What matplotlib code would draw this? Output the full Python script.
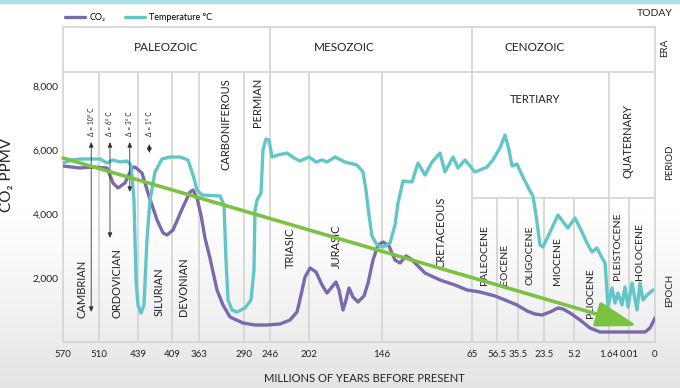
import numpy as np
import matplotlib
matplotlib.use('Agg')
import matplotlib.pyplot as plt

plt.rcParams['font.family'] = ['Lato', 'DejaVu Sans']

# x axis: millions of years before present, unevenly spaced ticks
tick_ages = [570, 510, 439, 409, 363, 290, 246, 202, 146, 65, 56.5, 35.5, 23.5, 5.2, 1.64, 0.01, 0]
tick_labels = ['570', '510', '439', '409', '363', '290', '246', '202', '146',
               '65', '56.5', '35.5', '23.5', '5.2', '1.64', '0.01', '0']
tick_slots = [0, 36, 75, 109, 136, 181, 207, 246, 319, 409, 434, 455, 481, 511, 546, 566, 592]

# temperature curve (plotted against the CO2 axis)
temp_age = [570, 555, 541.7, 508.2, 495.4, 484.5, 471.8, 459, 451.7, 446.3, 442.6, 439,
            436.4, 433.7, 431.1, 428.4, 424, 417.8, 410.8, 395.4, 381.7, 373.2, 366.4,
            358.1, 328.9, 322.4, 319.2, 315.9, 309.5, 301.4, 288.3, 278.2, 273.1, 271.4,
            268, 261.2, 257.9, 252.8, 247.7, 243.7, 237, 226.8, 218.9, 212.2, 202, 196.6,
            192, 188.2, 182.1, 174.4, 165.2, 160.6, 158.3, 156, 153.7, 149.8, 145.1, 138.8,
            134.3, 131.6, 127.1, 119, 113.6, 107.3, 101, 93.8, 89.3, 82.1, 77.6, 71.3, 64,
            59.9, 57.9, 53.5, 48.5, 44.5, 41.5, 36.5, 33.7, 29.96, 28.6, 27.2, 25.3, 24,
            19.8, 15, 11.3, 8.9, 5.1, 4.39, 3.88, 3.37, 2.86, 2.35, 2.04, 1.74, 1.396,
            1.151, 0.906, 0.58, 0.336, 0.0915, 0.00885, 0.00692, 0.00577, 0.00462,
            0.00308, 0.00077]
temp_val = [5594, 5688, 5719, 5719, 5594, 5688, 5625, 5656, 5531, 4438, 1938, 1156,
            906, 1156, 3188, 4438, 5313, 5719, 5781, 5781, 5688, 5219, 4750,
            4594, 4563, 4281, 2563, 1313, 1000, 938, 1063, 1313, 2250, 4125,
            4438, 4656, 6000, 6344, 6313, 5781, 5844, 5906, 5750, 5656, 5781, 5625,
            5688, 5625, 5781, 5625, 5531, 5313, 4750, 3969, 3313, 3031, 2969, 3094,
            3656, 4344, 5031, 5000, 5594, 5219, 5625, 5906, 5313, 5781, 5438, 5688, 5313,
            5469, 5688, 6063, 6469, 6000, 5500, 5563, 5219, 4719, 4563, 3969, 3031, 2969,
            3438, 3969, 3719, 3563, 3875, 3438, 3094, 2813, 2938, 2625, 2469, 1094, 1688,
            1219, 1531, 1156, 1719, 1094, 1844, 1000, 1844, 1313,
            1469, 1625]

# CO2 (ppmv)
co2_age = [570, 541.7, 520, 495.4, 484.5, 475.4, 462.7, 449.9, 444.5, 435.5, 430.2,
           422.2, 416.9, 413.4, 407.3, 390.3, 378.3, 373.2, 366.4, 359.8, 353.3, 345.2,
           333.8, 324.1, 312.7, 291.6, 271.4, 251.1, 234.7, 223.4, 215.5, 211, 206.5,
           201.2, 196.6, 192, 188.2, 184.4, 181.3, 179, 175.9, 173.6, 171.3, 168.3, 164.4,
           159.8, 156.7, 152.9, 149.1, 145.1, 139.7, 134.3, 129.8, 124.4, 119.9, 114.5,
           107.3, 93.8, 80.3, 69.5, 62.3, 57.2, 48.5, 36.5, 31.3, 27.65, 24.4, 19.8, 15,
           11.9, 7.6, 4.59, 3.57, 2.56, 1.314, 0.00962, 0.00385, 0.00192, 0.00077, 0]
co2_val = [5500, 5438, 5469, 5438, 4969, 4813, 4969, 5438, 5469, 5281, 4656,
           3813, 3406, 3344, 3500, 4219, 4688, 4750, 4500, 3969, 3250, 2625,
           1625, 1156, 781, 594, 531, 531, 563, 688, 938, 1469, 2031,
           2313, 2188, 1781, 1531, 1719, 1875, 1625, 1000, 1313, 1688, 1406, 1250,
           1438, 1844, 2563, 3031, 3125, 3000, 2563, 2469, 2688, 2594, 2406,
           2156, 1938, 1781, 1625, 1563, 1438, 1313, 1156, 969, 875, 844, 938, 1063,
           1031, 906, 688, 438, 313, 313, 313, 313, 438, 625, 750]

# overall trend arrow
trend_age = [570, 0.0067]
trend_val = [5750, 500]

# temperature range markers
delta_age = [523, 490, 454, 429]
delta_top = [6250, 6250, 6250, 6188]
delta_bottom = [938, 3250, 4688, 5906]
delta_labels = ['Δ = 10° C', 'Δ = 6° C', 'Δ = 3° C', 'Δ = 1° C']

eras = ['PALEOZOIC', 'MESOZOIC', 'CENOZOIC']
era_age = [414, 175, 28]

periods = ['CAMBRIAN', 'ORDOVICIAN', 'SILURIAN', 'DEVONIAN', 'TRIASIC', 'JURASIC', 'CRETACEOUS']
period_age = [538, 477, 420, 389, 223, 181, 93]
period_base = [750, 750, 800, 800, 2300, 2300, 2300]
periods_top = ['CARBONIFEROUS', 'PERMIAN']
period_top_age = [319, 268]

epochs = ['PALEOCENE', 'EOCENE', 'OLIGOCENE', 'MIOCENE', 'PLIOCENE', 'PLEISTOCENE', 'HOLOCENE']
epoch_age = [60.6, 49.5, 30, 15, 3.57, 0.91, 0.0058]
epoch_base = [1781, 1781, 1781, 1781, 750, 1938, 1938]

purple = '#7a69ad'
cyan = '#62c6c8'
green = '#7cc242'
grid = '#d3d3d3'

fig = plt.figure(figsize=(6.8, 3.88), dpi=100)

# soft background
bg = fig.add_axes([0, 0, 1, 1], zorder=-10)
rows = np.linspace(0, 1, 388)
shade = 1 - 0.11 * np.clip((rows - 0.5) / 0.5, 0, 1) ** 1.3
bg.imshow(np.tile(shade[:, None], (1, 10)), cmap='gray', vmin=0, vmax=1,
          aspect='auto', extent=[0, 1, 0, 1])
bg.axhspan(0.992, 1.0, color='#a9e3ea')
bg.set_xlim(0, 1)
bg.set_ylim(0, 1)
bg.axis('off')

ax = fig.add_axes([63 / 680, 1 - 342 / 388, 592 / 680, 315 / 388])
ax.set_facecolor('none')

t_asc = np.array(tick_ages[::-1], dtype=float)
d_asc = 592 - np.array(tick_slots[::-1], dtype=float)


def fwd(a):
    return np.interp(a, t_asc, d_asc)


def inv(d):
    return np.interp(d, d_asc, t_asc)


ax.set_xscale('function', functions=(fwd, inv))
ax.set_xlim(570, 0)
ax.set_ylim(0, 9844)

# table lines
era_line = 8438
epoch_line = 4500
ax.vlines([246, 65], 0, 9844, color=grid, lw=1.2, zorder=1)
ax.vlines([510, 439, 409, 363, 290, 202, 146, 1.64], 0, era_line, color=grid, lw=1.2, zorder=1)
ax.vlines([56.5, 35.5, 23.5, 5.2, 0.01], 0, epoch_line, color=grid, lw=1.2, zorder=1)
ax.hlines(era_line, 570, 0, color=grid, lw=1.2, zorder=1)
ax.hlines(epoch_line, 65, 0, color=grid, lw=1.2, zorder=1)

for s in ax.spines.values():
    s.set_color(grid)
    s.set_linewidth(1.2)

ax.plot(co2_age, co2_val, color=purple, lw=2.4, solid_joinstyle='round',
        solid_capstyle='round', label='CO₂', zorder=3)
ax.plot(temp_age, temp_val, color=cyan, lw=2.4, solid_joinstyle='round',
        solid_capstyle='round', label='Temperature °C', zorder=3)

ax.annotate('', xy=(trend_age[1], trend_val[1]), xytext=(trend_age[0], trend_val[0]),
            arrowprops=dict(arrowstyle='-|>,head_length=1.8,head_width=0.55',
                            mutation_scale=14, color=green, lw=2.6,
                            shrinkA=0, shrinkB=0), zorder=5)

for a, t, b, lab in zip(delta_age, delta_top, delta_bottom, delta_labels):
    ax.annotate('', xy=(a, b), xytext=(a, t),
                arrowprops=dict(arrowstyle='<|-|>,head_length=0.5,head_width=0.22',
                                mutation_scale=6, color='#333333', lw=0.6,
                                shrinkA=0, shrinkB=0), zorder=4)
    ax.text(a, 6450, lab, rotation=90, ha='center', va='bottom', fontsize=4.8,
            color='#222222')

for name, a in zip(eras, era_age):
    ax.text(a, 9188, name, ha='center', va='center', fontsize=8.5, color='#222222')
for name, a, b in zip(periods, period_age, period_base):
    ax.text(a, b, name, rotation=90, ha='center', va='bottom', fontsize=8, color='#222222')
for name, a in zip(periods_top, period_top_age):
    ax.text(a, 8250, name, rotation=90, ha='center', va='top', fontsize=8, color='#222222')
for name, a, b in zip(epochs, epoch_age, epoch_base):
    ax.text(a, b, name, rotation=90, ha='center', va='bottom', fontsize=7.5, color='#222222')
ax.text(27.7, 7563, 'TERTIARY', ha='center', va='center', fontsize=8, color='#222222')
ax.text(0.09, 6281, 'QUATERNARY', rotation=90, ha='center', va='center', fontsize=8,
        color='#222222')

ax.set_xticks(tick_ages, labels=tick_labels)
ax.set_xticks([], minor=True)
ax.set_yticks([2000, 4000, 6000, 8000], labels=['2,000', '4,000', '6,000', '8,000'])
ax.tick_params(axis='both', length=0, labelsize=7, colors='#222222')
ax.tick_params(axis='x', pad=6)
ax.tick_params(axis='y', pad=3, labelsize=7.5)

ax.set_ylabel('CO₂ PPMV', fontsize=11, color='#222222')
ax.yaxis.set_label_coords(-(63 - 14) / 592, (342 - 175) / 315)
ax.set_xlabel('MILLIONS OF YEARS BEFORE PRESENT', fontsize=8, color='#222222', va='center')
ax.xaxis.set_label_coords((364 - 63) / 592, (342 - 379) / 315)

ax.legend(loc='lower left', bbox_to_anchor=(0, 1.01), ncol=2, frameon=False,
          fontsize=6.5, handlelength=2.2, handletextpad=0.5, columnspacing=2.2,
          borderaxespad=0, borderpad=0.2)

fig.text(655 / 680, 1 - 14 / 388, 'TODAY', ha='center', va='center', fontsize=7.5, color='#222222')
fig.text(665 / 680, 1 - 48 / 388, 'ERA', rotation=90, ha='center', va='center', fontsize=7, color='#222222')
fig.text(670 / 680, 1 - 162 / 388, 'PERIOD', rotation=90, ha='center', va='center', fontsize=7, color='#222222')
fig.text(670 / 680, 1 - 290 / 388, 'EPOCH', rotation=90, ha='center', va='center', fontsize=7, color='#222222')

fig.savefig('out.png', dpi=100)
